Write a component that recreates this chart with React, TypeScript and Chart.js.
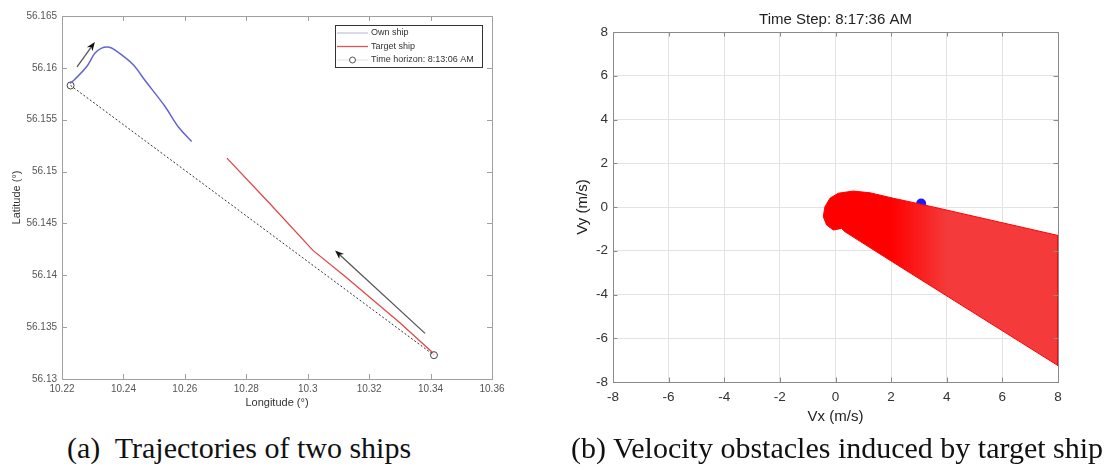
import React, { useEffect, useRef } from 'react';
import { Chart, registerables } from 'chart.js';

Chart.register(...registerables);

// ---------- (a) Trajectories ----------
const OWN_LON = [10.2226, 10.2242, 10.2280, 10.2307, 10.2329, 10.2351, 10.2373, 10.2432, 10.2470, 10.2535, 10.2579, 10.2622];
const OWN_LAT = [56.1585, 56.1589, 56.1601, 56.1614, 56.1619, 56.1620, 56.1617, 56.1603, 56.1588, 56.1563, 56.1543, 56.1529];

const TGT_LON = [10.2737, 10.2877, 10.3017, 10.3121, 10.3301, 10.3408];
const TGT_LAT = [56.1513, 56.1469, 56.1424, 56.1399, 56.1354, 56.1325];

const LINK_LON = [10.2228, 10.3411];
const LINK_LAT = [56.1583, 56.1323];

const HORIZON_LON = [10.2228, 10.3411];
const HORIZON_LAT = [56.1583, 56.1323];

const ARROW_TAIL_LON = [10.2249, 10.3382];
const ARROW_TAIL_LAT = [56.1601, 56.1344];
const ARROW_HEAD_LON = [10.2307, 10.3089];
const ARROW_HEAD_LAT = [56.1625, 56.1424];

const LON_TICKS = [10.22, 10.24, 10.26, 10.28, 10.3, 10.32, 10.34, 10.36];
const LON_TICK_LABELS = ['10.22', '10.24', '10.26', '10.28', '10.3', '10.32', '10.34', '10.36'];
const LAT_TICKS = [56.13, 56.135, 56.14, 56.145, 56.15, 56.155, 56.16, 56.165];
const LAT_TICK_LABELS = ['56.13', '56.135', '56.14', '56.145', '56.15', '56.155', '56.16', '56.165'];

const LEGEND_LABELS = ['Own ship', 'Target ship', 'Time horizon: 8:13:06 AM'];

// ---------- (b) Velocity obstacle ----------
const VO_VX = [-0.44, -0.38, -0.2, 0.1, 0.64, 1.24, 2.08, 3.1, 8, 8, 2.1, 0.34, 0.22, -0.08, -0.32, -0.44];
const VO_VY = [-0.44, 0.01, 0.4, 0.63, 0.73, 0.65, 0.4, 0.12, -1.3, -7.25, -2.55, -1.13, -0.98, -1.05, -0.82, -0.44];

const OWN_VX = [3.08];
const OWN_VY = [0.16];

const V_TICKS = [-8, -6, -4, -2, 0, 2, 4, 6, 8];
const V_TICK_LABELS = ['-8', '-6', '-4', '-2', '0', '2', '4', '6', '8'];

const SANS = "'Liberation Sans', Arial, Helvetica, sans-serif";
const SERIF = "'Liberation Serif', 'Times New Roman', serif";

const zip = (xs: number[], ys: number[]) => xs.map((x, i) => ({ x, y: ys[i] }));

const makeFramePlugin = (id: string, color: string, len: number) => ({
  id,
  afterDraw(chart: any) {
    const { ctx, chartArea: a, scales } = chart;
    ctx.save();
    ctx.strokeStyle = color;
    ctx.lineWidth = 1;
    ctx.strokeRect(Math.round(a.left) + 0.5, Math.round(a.top) + 0.5, Math.round(a.right - a.left), Math.round(a.bottom - a.top));
    ctx.beginPath();
    scales.x.ticks.forEach((t: any) => {
      const px = Math.round(scales.x.getPixelForValue(t.value)) + 0.5;
      ctx.moveTo(px, a.bottom);
      ctx.lineTo(px, a.bottom - len);
      ctx.moveTo(px, a.top);
      ctx.lineTo(px, a.top + len);
    });
    scales.y.ticks.forEach((t: any) => {
      const py = Math.round(scales.y.getPixelForValue(t.value)) + 0.5;
      ctx.moveTo(a.left, py);
      ctx.lineTo(a.left + len, py);
      ctx.moveTo(a.right, py);
      ctx.lineTo(a.right - len, py);
    });
    ctx.stroke();
    ctx.restore();
  },
});

const arrowPlugin = {
  id: 'arrows',
  afterDatasetsDraw(chart: any) {
    const { ctx, scales } = chart;
    ctx.save();
    for (let i = 0; i < ARROW_TAIL_LON.length; i++) {
      const x0 = scales.x.getPixelForValue(ARROW_TAIL_LON[i]);
      const y0 = scales.y.getPixelForValue(ARROW_TAIL_LAT[i]);
      const x1 = scales.x.getPixelForValue(ARROW_HEAD_LON[i]);
      const y1 = scales.y.getPixelForValue(ARROW_HEAD_LAT[i]);
      const ang = Math.atan2(y1 - y0, x1 - x0);
      const hl = 9;
      const hw = 3.5;
      ctx.strokeStyle = '#555';
      ctx.lineWidth = 1.3;
      ctx.beginPath();
      ctx.moveTo(x0, y0);
      ctx.lineTo(x1 - Math.cos(ang) * hl * 0.7, y1 - Math.sin(ang) * hl * 0.7);
      ctx.stroke();
      ctx.fillStyle = '#111';
      ctx.beginPath();
      ctx.moveTo(x1, y1);
      ctx.lineTo(x1 - Math.cos(ang) * hl - Math.sin(ang) * hw, y1 - Math.sin(ang) * hl + Math.cos(ang) * hw);
      ctx.lineTo(x1 - Math.cos(ang) * hl * 0.7, y1 - Math.sin(ang) * hl * 0.7);
      ctx.lineTo(x1 - Math.cos(ang) * hl + Math.sin(ang) * hw, y1 - Math.sin(ang) * hl - Math.cos(ang) * hw);
      ctx.closePath();
      ctx.fill();
    }
    ctx.restore();
  },
};

const legendPlugin = {
  id: 'boxLegend',
  afterDraw(chart: any) {
    const { ctx, chartArea: a } = chart;
    const w = 147;
    const h = 42;
    const x = a.right - 10 - w;
    const y = a.top + 9;
    ctx.save();
    ctx.fillStyle = '#fff';
    ctx.fillRect(x, y, w, h);
    ctx.strokeStyle = '#333';
    ctx.lineWidth = 1;
    ctx.strokeRect(Math.round(x) + 0.5, Math.round(y) + 0.5, w, h);
    const rows = [y + 8, y + 21.5, y + 35];
    const lx0 = x + 2;
    const lx1 = x + 33;
    ctx.strokeStyle = '#a0a0c8';
    ctx.lineWidth = 0.8;
    ctx.beginPath();
    ctx.moveTo(lx0, rows[0]);
    ctx.lineTo(lx1, rows[0]);
    ctx.stroke();
    ctx.strokeStyle = '#e25555';
    ctx.lineWidth = 1.3;
    ctx.beginPath();
    ctx.moveTo(lx0, rows[1]);
    ctx.lineTo(lx1, rows[1]);
    ctx.stroke();
    ctx.strokeStyle = '#ccc';
    ctx.lineWidth = 0.6;
    ctx.beginPath();
    ctx.moveTo(lx0, rows[2]);
    ctx.lineTo(lx1, rows[2]);
    ctx.stroke();
    ctx.fillStyle = '#fff';
    ctx.strokeStyle = '#555';
    ctx.lineWidth = 1;
    ctx.beginPath();
    ctx.arc((lx0 + lx1) / 2, rows[2], 3, 0, Math.PI * 2);
    ctx.fill();
    ctx.stroke();
    ctx.fillStyle = '#333';
    ctx.font = `9px ${SANS}`;
    ctx.textBaseline = 'middle';
    ctx.textAlign = 'left';
    LEGEND_LABELS.forEach((t, i) => ctx.fillText(t, x + 36, rows[i]));
    ctx.restore();
  },
};

const voFill = (context: any) => {
  const chart = context.chart;
  const xs = chart.scales && chart.scales.x;
  if (!chart.chartArea || !xs) return '#ff0000';
  const g = chart.ctx.createLinearGradient(xs.getPixelForValue(2), 0, xs.getPixelForValue(4), 0);
  g.addColorStop(0, '#ff0000');
  g.addColorStop(1, '#f43a3a');
  return g;
};

export default function App() {
  const leftRef = useRef<HTMLCanvasElement | null>(null);
  const rightRef = useRef<HTMLCanvasElement | null>(null);

  useEffect(() => {
    const left = new Chart(leftRef.current as HTMLCanvasElement, {
      type: 'scatter',
      data: {
        datasets: [
          {
            label: 'link',
            data: zip(LINK_LON, LINK_LAT),
            showLine: true,
            borderColor: '#333',
            borderWidth: 1,
            borderDash: [2, 2],
            pointRadius: 0,
            fill: false,
          },
          {
            label: 'Own ship',
            data: zip(OWN_LON, OWN_LAT),
            showLine: true,
            borderColor: '#6464d2',
            borderWidth: 1.5,
            pointRadius: 0,
            tension: 0.3,
            fill: false,
          },
          {
            label: 'Target ship',
            data: zip(TGT_LON, TGT_LAT),
            showLine: true,
            borderColor: '#e04848',
            borderWidth: 1.3,
            pointRadius: 0,
            fill: false,
          },
          {
            label: 'Time horizon',
            data: zip(HORIZON_LON, HORIZON_LAT),
            showLine: false,
            pointRadius: 3.5,
            pointBorderColor: '#444',
            pointBackgroundColor: 'rgba(255,255,255,0)',
            pointBorderWidth: 1,
          },
        ] as any,
      },
      options: {
        animation: false,
        responsive: false,
        layout: { padding: { left: 0, top: 16, right: 28, bottom: 0 } },
        plugins: { legend: { display: false }, tooltip: { enabled: false }, title: { display: false } },
        scales: {
          x: {
            type: 'linear',
            min: 10.22,
            max: 10.36,
            afterBuildTicks: (s: any) => { s.ticks = LON_TICKS.map((v) => ({ value: v })); },
            afterFit: (s: any) => { s.height = 41; },
            ticks: {
              callback: (_v: any, i: number) => LON_TICK_LABELS[i],
              font: { family: SANS, size: 10 },
              color: '#555',
              padding: 4,
              autoSkip: false,
              maxRotation: 0,
            },
            grid: { display: false, drawTicks: false },
            border: { display: false },
            title: { display: true, text: 'Longitude (°)', font: { family: SANS, size: 11 }, color: '#333', padding: { top: 0, bottom: 10 } },
          },
          y: {
            type: 'linear',
            min: 56.13,
            max: 56.165,
            afterBuildTicks: (s: any) => { s.ticks = LAT_TICKS.map((v) => ({ value: v })); },
            afterFit: (s: any) => { s.width = 62; },
            ticks: {
              callback: (_v: any, i: number) => LAT_TICK_LABELS[i],
              font: { family: SANS, size: 10 },
              color: '#555',
              padding: 5,
              autoSkip: false,
            },
            grid: { display: false, drawTicks: false },
            border: { display: false },
            title: { display: true, text: 'Latitude (°)', font: { family: SANS, size: 11 }, color: '#333', padding: { top: 10, bottom: 0 } },
          },
        },
      } as any,
      plugins: [arrowPlugin, makeFramePlugin('frameA', '#a0a0a0', 5), legendPlugin],
    });

    const right = new Chart(rightRef.current as HTMLCanvasElement, {
      type: 'scatter',
      data: {
        datasets: [
          {
            label: 'VO',
            data: zip(VO_VX, VO_VY),
            showLine: true,
            borderColor: '#ff0000',
            borderWidth: 1,
            backgroundColor: voFill,
            pointRadius: 0,
            fill: 'shape',
            tension: 0,
          },
          {
            label: 'Own velocity',
            data: zip(OWN_VX, OWN_VY),
            showLine: false,
            pointRadius: 5,
            pointBackgroundColor: '#1a1aff',
            pointBorderColor: '#1a1aff',
            pointBorderWidth: 0,
          },
        ] as any,
      },
      options: {
        animation: false,
        responsive: false,
        layout: { padding: { left: 0, top: 0, right: 57, bottom: 0 } },
        plugins: {
          legend: { display: false },
          tooltip: { enabled: false },
          title: {
            display: true,
            fullSize: false,
            text: 'Time Step: 8:17:36 AM',
            font: { family: SANS, size: 15, weight: 'normal' },
            color: '#222',
            padding: { top: 11, bottom: 3 },
          },
        },
        scales: {
          x: {
            type: 'linear',
            min: -8,
            max: 8,
            afterBuildTicks: (s: any) => { s.ticks = V_TICKS.map((v) => ({ value: v })); },
            afterFit: (s: any) => { s.height = 58; },
            ticks: {
              callback: (_v: any, i: number) => V_TICK_LABELS[i],
              font: { family: SANS, size: 13.5 },
              color: '#333',
              padding: 7,
              autoSkip: false,
              maxRotation: 0,
            },
            grid: { display: true, drawTicks: false, color: '#e3e3e3', lineWidth: 1 },
            border: { display: false },
            title: { display: true, text: 'Vx (m/s)', font: { family: SANS, size: 15 }, color: '#222', padding: { top: 0, bottom: 14 } },
          },
          y: {
            type: 'linear',
            min: -8,
            max: 8,
            afterBuildTicks: (s: any) => { s.ticks = V_TICKS.map((v) => ({ value: v })); },
            afterFit: (s: any) => { s.width = 53; },
            ticks: {
              callback: (_v: any, i: number) => V_TICK_LABELS[i],
              font: { family: SANS, size: 13.5 },
              color: '#333',
              padding: 5,
              autoSkip: false,
            },
            grid: { display: true, drawTicks: false, color: '#e3e3e3', lineWidth: 1 },
            border: { display: false },
            title: { display: true, text: 'Vy (m/s)', font: { family: SANS, size: 15 }, color: '#222', padding: { top: 14, bottom: 0 } },
          },
        },
      } as any,
      plugins: [makeFramePlugin('frameB', '#8a8a8a', 4.5)],
    });

    return () => {
      left.destroy();
      right.destroy();
    };
  }, []);

  const captionStyle: React.CSSProperties = {
    position: 'absolute',
    top: 433,
    fontFamily: SERIF,
    fontSize: 30,
    lineHeight: '30px',
    whiteSpace: 'pre',
    color: '#111',
  };

  return (
    <div style={{ position: 'fixed', left: 0, top: 0, width: 1115, height: 470, background: '#fff', overflow: 'hidden' }}>
      <canvas ref={leftRef} width={520} height={420} style={{ position: 'absolute', left: 0, top: 0, width: 520, height: 420 }} />
      <canvas ref={rightRef} width={555} height={440} style={{ position: 'absolute', left: 560, top: 0, width: 555, height: 440 }} />
      <div style={{ ...captionStyle, left: 67 }}>(a)  Trajectories of two ships</div>
      <div style={{ ...captionStyle, left: 571 }}>(b) Velocity obstacles induced by target ship</div>
    </div>
  );
}
